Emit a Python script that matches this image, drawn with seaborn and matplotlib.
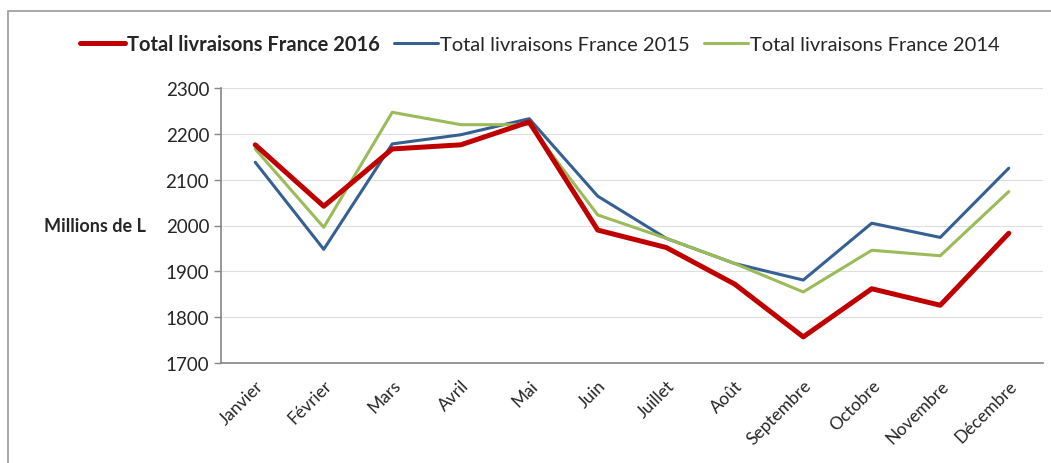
import pandas as pd
import matplotlib.pyplot as plt
import seaborn as sns
from matplotlib.patches import Rectangle
from matplotlib.ticker import FixedLocator

mois = ["Janvier", "Février", "Mars", "Avril", "Mai", "Juin", "Juillet",
        "Août", "Septembre", "Octobre", "Novembre", "Décembre"]
total_2016 = [2176, 2042, 2167, 2176, 2226, 1990, 1952, 1872, 1757, 1862, 1826, 1983]
total_2015 = [2138, 1948, 2178, 2198, 2233, 2064, 1972, 1917, 1881, 2005, 1974, 2125]
total_2014 = [2167, 1996, 2247, 2220, 2220, 2023, 1972, 1917, 1855, 1946, 1934, 2074]
series = ["Total livraisons France 2016", "Total livraisons France 2015",
          "Total livraisons France 2014"]

df = pd.DataFrame({
    "mois": mois * 3,
    "pos": list(range(12)) * 3,
    "valeur": total_2016 + total_2015 + total_2014,
    "serie": [series[0]] * 12 + [series[1]] * 12 + [series[2]] * 12,
})

sns.set_style("white")
plt.rcParams["font.family"] = ["Lato", "DejaVu Sans"]

fig = plt.figure(figsize=(10.51, 4.64), dpi=100)
ax = fig.add_axes([221/1051, 1 - 364/464, 822/1051, 275/464])

couleurs = {series[0]: "#C00000", series[1]: "#376092", series[2]: "#9BBB59"}
sns.lineplot(data=df, x="pos", y="valeur", hue="serie", palette=couleurs,
             hue_order=series, ax=ax, legend=False)
for line, lw in zip(ax.lines, [3.6, 2.2, 2.2]):
    line.set_linewidth(lw)
    line.set_solid_capstyle("round")
# 2016 au premier plan
ax.lines[0].set_zorder(5)

ax.set_xlim(-0.5, 11.5)
ax.set_ylim(1700, 2300)
ax.set_yticks(range(1700, 2301, 100))
ax.set_xticks(range(12))
ax.set_xticklabels(mois, rotation=45, ha="right", rotation_mode="anchor", fontsize=12.5)
ax.xaxis.set_minor_locator(FixedLocator([i - 0.5 for i in range(13)]))
ax.tick_params(axis="x", which="major", length=0, pad=10)
ax.tick_params(axis="x", which="minor", length=6, color="#868686", width=1)
ax.tick_params(axis="y", length=5, color="#868686", width=1, labelsize=13.5, left=True)
ax.grid(axis="y", color="#dedede", lw=0.8)
ax.set_axisbelow(True)
sns.despine(ax=ax)
for s in ["left", "bottom"]:
    ax.spines[s].set_color("#868686")
    ax.spines[s].set_linewidth(1.2)

ax.set_xlabel("")
ax.set_ylabel("Millions de L", rotation=0, ha="right", va="center",
              fontsize=13, fontweight="bold")
ax.yaxis.set_label_coords(-0.092, 0.5)

handles = [plt.Line2D([], [], color=couleurs[s], lw=lw) for s, lw in zip(series, [3.6, 2.2, 2.2])]
leg = fig.legend(handles, series, loc="center", bbox_to_anchor=(540/1051, 1 - 45/464),
                 ncol=3, frameon=False, fontsize=14.5, handlelength=2.2,
                 handletextpad=0.1, columnspacing=0.7)
leg.get_texts()[0].set_fontweight("bold")

fig.patches.append(Rectangle((8/1051, -0.1), 1.2, 1.1 - 12/464, transform=fig.transFigure,
                             fill=False, edgecolor="#9a9a9a", lw=1.2))

fig.savefig("out.png", dpi=100)
